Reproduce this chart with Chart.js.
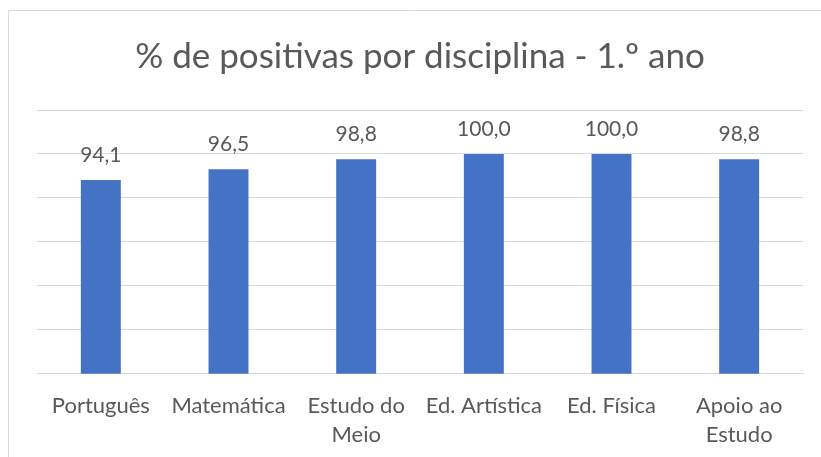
<!DOCTYPE html>
<html>
<head>
<meta charset="utf-8">
<script src="https://cdn.jsdelivr.net/npm/chart.js@4/dist/chart.umd.min.js"></script>
<style>
  html, body { margin: 0; padding: 0; background: #ffffff; overflow: hidden; }
  #wrap { position: absolute; left: 0; top: 0; width: 821px; height: 457px; }
</style>
</head>
<body>
<div id="wrap"><canvas id="chart" width="821" height="457"></canvas></div>
<script>
// categorias e valores
const disciplinas = ['Português', 'Matemática', ['Estudo do', 'Meio'], 'Ed. Artística', 'Ed. Física', ['Apoio ao', 'Estudo']];
const positivas = [94.1, 96.5, 98.8, 100.0, 100.0, 98.8];
const tituloGrafico = '% de positivas por disciplina - 1.º ano';

const textColor = '#595959';
const fontFamily = 'Lato, "Open Sans", sans-serif';

//moldura do gráfico (só esquerda e topo ficam visíveis)
const frame = {
  id: 'frame',
  beforeDraw(chart) {
    const ctx = chart.ctx;
    ctx.save();
    ctx.strokeStyle = '#d9d9d9';
    ctx.lineWidth = 1;
    ctx.beginPath();
    ctx.moveTo(8.5, chart.height + 5);
    ctx.lineTo(8.5, 10.5);
    ctx.lineTo(chart.width + 5, 10.5);
    ctx.stroke();
    ctx.restore();
  }
};

//rótulos com o valor por cima de cada barra
const valueLabels = {
  id: 'valueLabels',
  afterDatasetsDraw(chart) {
    const ctx = chart.ctx;
    const meta = chart.getDatasetMeta(0);
    ctx.save();
    ctx.fillStyle = textColor;
    ctx.font = '21px ' + fontFamily;
    ctx.textAlign = 'center';
    ctx.textBaseline = 'middle';
    meta.data.forEach((bar, i) => {
      const txt = positivas[i].toFixed(1).replace('.', ',');
      ctx.fillText(txt, bar.x, bar.y - 25);
    });
    ctx.restore();
  }
};

const config = {
  type: 'bar',
  data: {
    labels: disciplinas,
    datasets: [{
      label: 'Positivas (%)',
      data: positivas,
      backgroundColor: '#4472C4',
      borderWidth: 0,
      categoryPercentage: 1.0,
      barPercentage: 0.313
    }]
  },
  options: {
    responsive: false,
    animation: false,
    layout: {
      padding: { left: 37, right: 18, top: 0, bottom: -2 }
    },
    plugins: {
      legend: { display: false },
      tooltip: { enabled: false },
      title: {
        display: true,
        text: tituloGrafico,
        color: textColor,
        font: { family: fontFamily, size: 35, weight: 'normal', lineHeight: 1.2 },
        padding: { top: 36, bottom: 32 }
      }
    },
    scales: {
      x: {
        grid: { display: false },
        border: { color: '#d9d9d9', width: 1 },
        ticks: {
          color: textColor,
          font: { family: fontFamily, size: 22, lineHeight: 1.3 },
          maxRotation: 0,
          autoSkip: false,
          padding: 10
        }
      },
      y: {
        min: 50,
        max: 110,
        ticks: { display: false, stepSize: 10 },
        grid: { color: '#d9d9d9', drawTicks: false },
        border: { display: false }
      }
    }
  },
  plugins: [frame, valueLabels]
};

const chart = new Chart(document.getElementById('chart'), config);
</script>
</body>
</html>
